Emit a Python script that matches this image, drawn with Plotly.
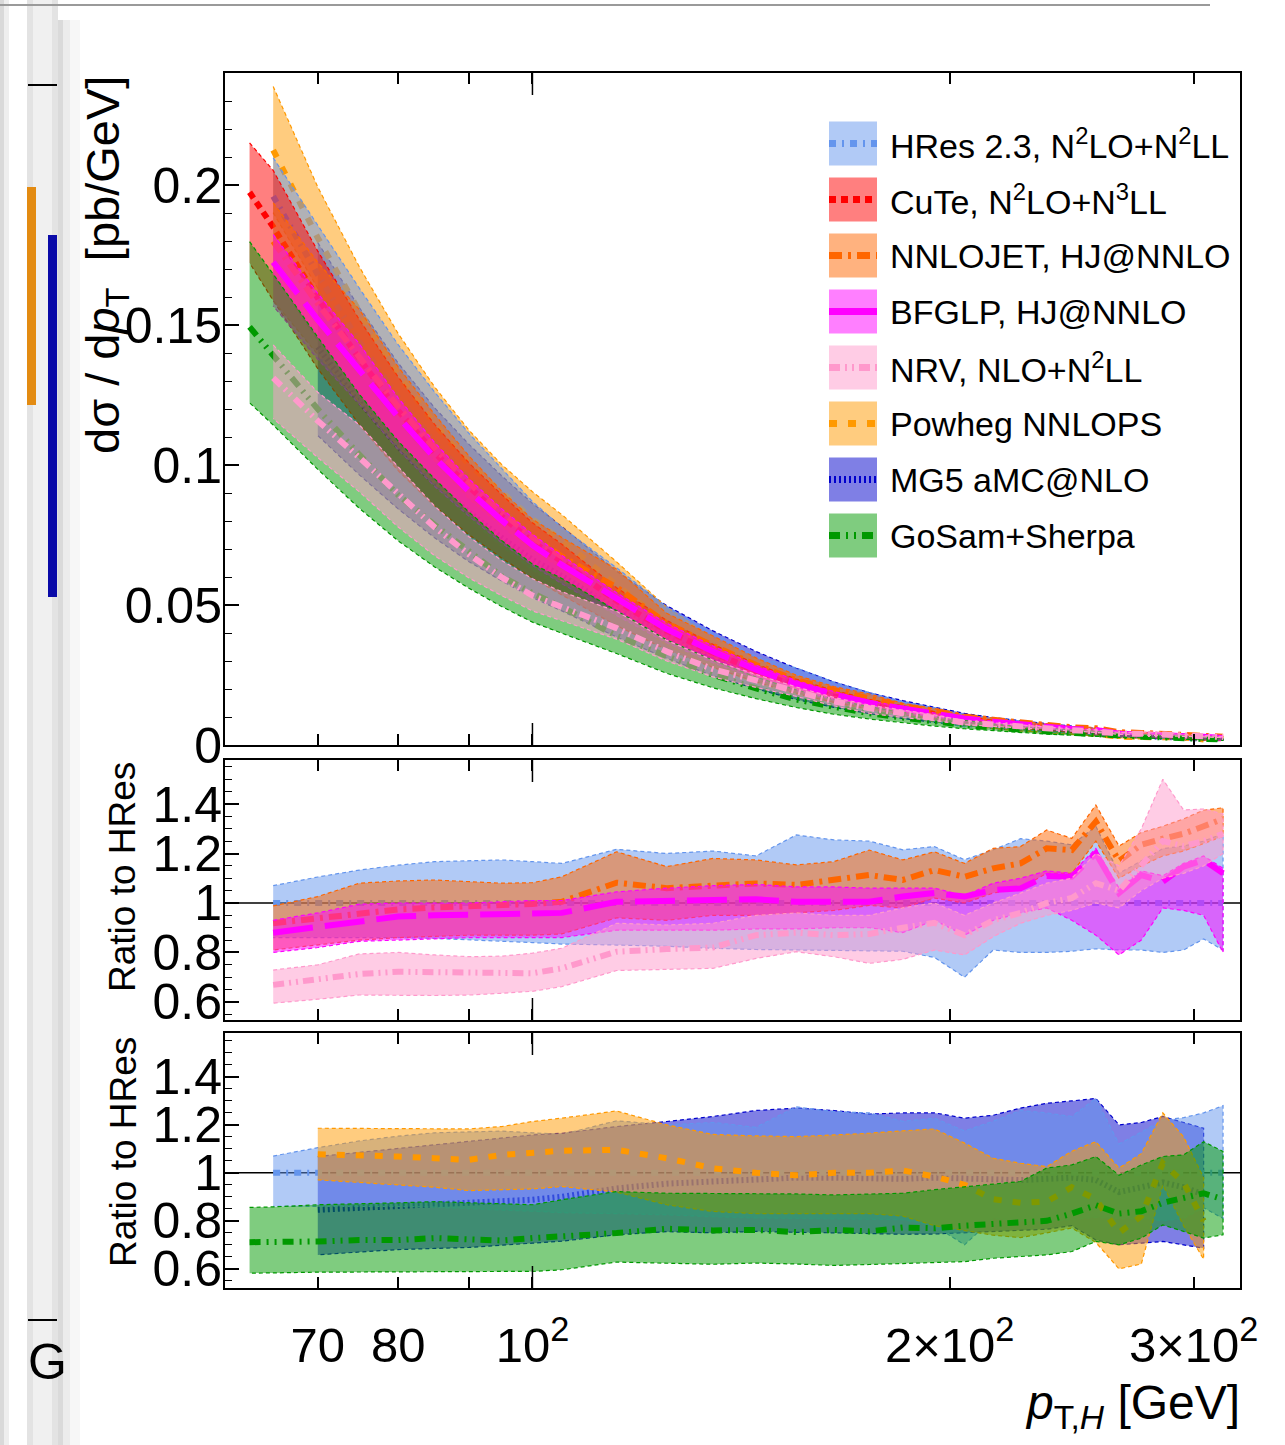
import math
import plotly.graph_objects as go

# ---------------- data ----------------
N = None
pt = [62.5, 65, 70, 75, 80, 85, 90, 95, 100, 105, 115, 125, 135, 145, 155, 165, 175,
      185, 195, 205, 215, 225, 235, 245, 255, 265, 275, 285, 295, 305, 315]

# HRes central prediction dsigma/dpT [pb/GeV] (reference for all ratios)
hres_xsec = [0.210, 0.196, 0.168, 0.144, 0.124, 0.108, 0.095, 0.084, 0.0745, 0.067, 0.052,
             0.041, 0.033, 0.0265, 0.0216, 0.0179, 0.0150, 0.0127, 0.0108, 0.0092, 0.0079,
             0.0068, 0.0059, 0.0052, 0.0045, 0.0039, 0.0035, 0.0031, 0.0028, 0.0025, 0.0022]

# ratios to HRes central: centre / lower / upper
hres_c = [N, 1.0, 1.0, 1.0, 1.0, 1.0, 1.0, 1.0, 1.0, 1.0, 1.0, 1.0, 1.0, 1.0, 1.0, 1.0, 1.0,
          1.0, 1.0, 1.0, 1.0, 1.0, 1.0, 1.0, 1.0, 1.0, 1.0, 1.0, 1.0, 1.0, 1.0]
hres_hi = [N, 1.07, 1.105, 1.133, 1.153, 1.167, 1.171, 1.174, 1.167, 1.16, 1.217, 1.20, 1.21,
           1.19, 1.275, 1.255, 1.25, 1.215, 1.228, 1.175, 1.215, 1.26, 1.25, 1.235, 1.31, 1.12,
           1.17, 1.22, 1.23, 1.25, 1.28]
hres_lo = [N, 0.86, 0.86, 0.86, 0.86, 0.857, 0.852, 0.845, 0.84, 0.834, 0.83, 0.825, 0.817,
           0.812, 0.81, 0.808, 0.806, 0.805, 0.78, 0.70, 0.81, 0.80, 0.80, 0.805, 0.815, 0.81,
           0.81, 0.80, 0.81, 0.855, 0.81]

cute_c = [0.94, 0.944, 0.95, 0.958, 0.963, 0.967, 0.97, 0.972, 0.975, 0.978, 0.99, 0.995, 1.0,
          1.0, 1.0, 1.0, 1.0, 1.01, 1.01, 1.01, 1.02, 1.02, 1.03, 1.03, 1.04, 1.04, 1.05, 1.05,
          1.06, 1.06, 1.07]
cute_hi = [1.024, 1.047, 1.05, 1.055, 1.06, 1.06, 1.06, 1.065, 1.065, 1.07, 1.08, 1.085, 1.09,
           1.09, 1.09, 1.09, 1.09, 1.10, 1.10, 1.10, 1.11, 1.11, 1.12, 1.12, 1.13, 1.13, 1.14,
           1.14, 1.15, 1.15, 1.16]
cute_lo = [0.82, 0.81, 0.80, 0.795, 0.79, 0.79, 0.79, 0.795, 0.80, 0.80, 0.82, 0.83, 0.84,
           0.85, 0.85, 0.85, 0.85, 0.86, 0.86, 0.86, 0.87, 0.87, 0.88, 0.88, 0.89, 0.89, 0.90,
           0.90, 0.91, 0.91, 0.92]

nnlo_c = [N, 0.918, 0.938, 0.962, 0.974, 0.982, 0.985, 0.99, 0.996, 1.005, 1.082, 1.06, 1.073,
          1.079, 1.073, 1.093, 1.113, 1.093, 1.133, 1.106, 1.14, 1.16, 1.221, 1.214, 1.329,
          1.17, 1.235, 1.26, 1.28, 1.31, 1.34]
nnlo_hi = [N, 0.988, 1.026, 1.08, 1.089, 1.093, 1.086, 1.08, 1.082, 1.106, 1.207, 1.147, 1.18,
           1.174, 1.154, 1.167, 1.214, 1.174, 1.207, 1.16, 1.221, 1.228, 1.295, 1.261, 1.396,
           1.23, 1.285, 1.31, 1.34, 1.375, 1.385]
nnlo_lo = [N, 0.81, 0.83, 0.85, 0.86, 0.865, 0.87, 0.87, 0.87, 0.875, 0.94, 0.93, 0.95, 0.95,
           0.96, 0.97, 0.99, 0.98, 1.02, 1.0, 1.04, 1.06, 1.12, 1.12, 1.25, 1.10, 1.15, 1.19,
           1.21, 1.24, 1.27]

bfglp_c = [N, 0.88, 0.904, 0.93, 0.945, 0.95, 0.954, 0.956, 0.958, 0.96, 1.005, 1.01, 1.012,
           1.015, 1.005, 1.005, 1.005, 1.026, 1.04, 1.026, 1.053, 1.059, 1.109, 1.106, 1.20,
           1.04, 1.113, 1.086, 1.147, 1.174, 1.12]
bfglp_hi = [N, 0.93, 0.96, 0.995, 1.0, 1.0, 1.0, 1.005, 1.01, 1.01, 1.045, 1.06, 1.07, 1.075,
            1.065, 1.065, 1.06, 1.06, 1.06, 1.03, 1.08, 1.1, 1.13, 1.12, 1.22, 1.06, 1.13,
            1.11, 1.16, 1.19, 1.14]
bfglp_lo = [N, 0.80, 0.82, 0.845, 0.85, 0.855, 0.86, 0.86, 0.86, 0.86, 0.89, 0.89, 0.89,
            0.895, 0.895, 0.9, 0.9, 0.88, 0.93, 0.87, 0.93, 0.96, 0.98, 0.93, 0.87, 0.79,
            0.85, 0.98, 0.97, 0.95, 0.80]

nrv_c = [N, 0.669, 0.689, 0.713, 0.722, 0.72, 0.716, 0.713, 0.716, 0.736, 0.803, 0.814, 0.82,
         0.87, 0.88, 0.87, 0.875, 0.90, 0.92, 0.87, 0.93, 0.96, 1.0, 1.02, 1.08, 1.05, 1.15,
         1.25, 1.23, 1.25, 1.28]
nrv_hi = [N, 0.729, 0.75, 0.794, 0.80, 0.79, 0.783, 0.785, 0.797, 0.817, 0.918, 0.911, 0.918,
          0.95, 0.96, 0.95, 0.95, 0.98, 1.0, 0.95, 1.0, 1.04, 1.08, 1.10, 1.20, 1.15, 1.30,
          1.50, 1.376, 1.38, 1.36]
nrv_lo = [N, 0.595, 0.611, 0.628, 0.628, 0.626, 0.628, 0.635, 0.643, 0.662, 0.727, 0.732,
          0.736, 0.776, 0.803, 0.783, 0.756, 0.772, 0.81, 0.79, 0.864, 0.918, 0.95, 0.97, 1.0,
          0.98, 1.05, 1.10, 1.12, 1.15, 1.20]

pw_c = [N, 1.084, 1.078, 1.075, 1.068, 1.061, 1.054, 1.075, 1.082, 1.092, 1.096, 1.061, 1.019,
        1.0, 0.99, 1.0, 1.0, 1.01, 0.985, 0.95, 0.89, 0.875, 0.88, 0.94, 0.89, 0.75, 0.82,
        1.04, 0.96, 0.80, N]
pw_hi = [N, 1.20, 1.186, 1.186, 1.185, 1.184, 1.183, 1.193, 1.214, 1.228, 1.258, 1.20, 1.16,
         1.154, 1.151, 1.158, 1.165, 1.175, 1.183, 1.124, 1.061, 1.04, 1.026, 1.09, 1.13, 1.02,
         1.08, 1.25, 1.15, 0.98, N]
pw_lo = [N, 0.97, 0.971, 0.96, 0.95, 0.94, 0.926, 0.93, 0.933, 0.943, 0.92, 0.867, 0.839,
         0.83, 0.83, 0.83, 0.83, 0.82, 0.78, 0.76, 0.74, 0.73, 0.75, 0.77, 0.71, 0.60, 0.62,
         0.95, 0.78, 0.64, N]

mg5_c = [N, N, 0.846, 0.853, 0.86, 0.867, 0.874, 0.881, 0.888, 0.90, 0.935, 0.955, 0.965,
         0.975, 0.98, 0.98, 0.975, 0.975, 0.98, 0.975, 0.97, 0.97, 0.975, 0.98, 0.97, 0.92,
         0.94, 0.96, 0.94, 0.91, N]
mg5_hi = [N, N, 1.068, 1.085, 1.10, 1.115, 1.13, 1.145, 1.158, 1.165, 1.193, 1.214, 1.235,
          1.26, 1.27, 1.26, 1.245, 1.25, 1.25, 1.228, 1.24, 1.27, 1.29, 1.30, 1.31, 1.20, 1.21,
          1.235, 1.21, 1.186, N]
mg5_lo = [N, N, 0.658, 0.67, 0.68, 0.685, 0.689, 0.698, 0.707, 0.715, 0.742, 0.755, 0.75,
          0.756, 0.752, 0.75, 0.748, 0.744, 0.745, 0.75, 0.755, 0.76, 0.765, 0.78, 0.72, 0.70,
          0.707, 0.714, 0.70, 0.686, N]

gs_c = [0.711, 0.711, 0.714, 0.72, 0.72, 0.728, 0.725, 0.718, 0.728, 0.735, 0.749, 0.767, 0.76,
        0.762, 0.753, 0.762, 0.756, 0.772, 0.769, 0.78, 0.785, 0.79, 0.80, 0.83, 0.865, 0.83,
        0.84, 0.875, 0.895, 0.915, 0.89]
gs_hi = [0.856, 0.858, 0.867, 0.87, 0.875, 0.88, 0.875, 0.87, 0.867, 0.888, 0.922, 0.915,
         0.915, 0.915, 0.912, 0.908, 0.91, 0.915, 0.93, 0.943, 0.953, 0.964, 1.02, 1.033,
         1.068, 0.99, 1.033, 1.068, 1.075, 1.13, 1.089]
gs_lo = [0.582, 0.583, 0.586, 0.587, 0.588, 0.589, 0.589, 0.589, 0.589, 0.596, 0.628, 0.624,
         0.619, 0.624, 0.62, 0.614, 0.618, 0.622, 0.625, 0.63, 0.644, 0.651, 0.658, 0.672,
         0.714, 0.70, 0.728, 0.783, 0.756, 0.728, 0.742]

names = ["HRes", "CuTe", "NNLOJET", "BFGLP", "NRV", "Powheg", "MG5", "GoSam"]
labels = ["HRes 2.3, N<sup>2</sup>LO+N<sup>2</sup>LL", "CuTe, N<sup>2</sup>LO+N<sup>3</sup>LL",
          "NNLOJET, HJ@NNLO", "BFGLP, HJ@NNLO", "NRV, NLO+N<sup>2</sup>LL", "Powheg NNLOPS",
          "MG5 aMC@NLO", "GoSam+Sherpa"]
values = {
    "HRes": (hres_c, hres_lo, hres_hi), "CuTe": (cute_c, cute_lo, cute_hi),
    "NNLOJET": (nnlo_c, nnlo_lo, nnlo_hi), "BFGLP": (bfglp_c, bfglp_lo, bfglp_hi),
    "NRV": (nrv_c, nrv_lo, nrv_hi), "Powheg": (pw_c, pw_lo, pw_hi),
    "MG5": (mg5_c, mg5_lo, mg5_hi), "GoSam": (gs_c, gs_lo, gs_hi),
}
# drawing order in each panel
top_panel = ["MG5", "Powheg", "HRes", "CuTe", "NNLOJET", "BFGLP", "GoSam", "NRV"]
mid_panel = ["HRes", "NNLOJET", "BFGLP", "NRV"]
bot_panel = ["MG5", "HRes", "Powheg", "GoSam"]
ratio_from = {"Powheg": 70}

# ---------------- styles ----------------
style = {
    "HRes": dict(rgb=(100, 149, 237), dash="7px,6px,2px,6px"),
    "CuTe": dict(rgb=(255, 0, 0), dash="7px,5px"),
    "NNLOJET": dict(rgb=(255, 102, 0), dash="13px,6px,3px,6px"),
    "BFGLP": dict(rgb=(255, 0, 255), dash="40px,12px"),
    "NRV": dict(rgb=(255, 153, 204), dash="11px,5px,2px,5px,2px,5px"),
    "Powheg": dict(rgb=(255, 153, 0), dash="8px,11px"),
    "MG5": dict(rgb=(0, 0, 204), dash="2px,3px"),
    "GoSam": dict(rgb=(0, 153, 0), dash="11px,6px,2px,6px,2px,6px"),
}
legend_dash = {"BFGLP": "solid"}

W, H = 1285, 1445
L, R, T, B = 225, 45, 73, 157
PW, PH = W - L - R, H - T - B
FONT = "Liberation Sans, Arial, Helvetica, sans-serif"


def px(x):
    return (x - L) / PW


def py(y):
    return (T + PH - y) / PH


def rgba(rgb, a):
    return "rgba(%d,%d,%d,%s)" % (rgb[0], rgb[1], rgb[2], a)


fig = go.Figure()


def add_series(name, xa, ya, absolute, pmin=None):
    c, lo, hi = values[name]
    idx = [i for i in range(len(pt)) if c[i] is not None and (pmin is None or pt[i] >= pmin)]
    xs = [pt[i] for i in idx]
    f = [hres_xsec[i] if absolute else 1.0 for i in idx]
    yc = [c[i] * k for i, k in zip(idx, f)]
    yl = [lo[i] * k for i, k in zip(idx, f)]
    yh = [hi[i] * k for i, k in zip(idx, f)]
    st = style[name]
    col = rgba(st["rgb"], 1)
    fig.add_trace(go.Scatter(x=xs + xs[::-1], y=yh + yl[::-1], mode="lines", fill="toself",
                             fillcolor=rgba(st["rgb"], 0.5),
                             line=dict(color=col, width=1.2, dash="4px,3px"),
                             xaxis=xa, yaxis=ya, hoverinfo="skip", showlegend=False))
    fig.add_trace(go.Scatter(x=xs, y=yc, mode="lines",
                             line=dict(color=col, width=6, dash=st["dash"]),
                             xaxis=xa, yaxis=ya, hoverinfo="skip", showlegend=False))


for n in top_panel:
    add_series(n, "x", "y", True)
for n in mid_panel:
    add_series(n, "x2", "y2", False, ratio_from.get(n))
for n in bot_panel:
    add_series(n, "x3", "y3", False, ratio_from.get(n))

xrange_ = [math.log10(60), math.log10(324)]
xticks = [70, 80, 90, 100, 200, 300]
xtext = ["70", "80", "", "10<sup>2</sup>", "2×10<sup>2</sup>", "3×10<sup>2</sup>"]


def xaxis(labels_on):
    return dict(type="log", range=xrange_, showgrid=False, zeroline=False, showline=True,
                linecolor="black", linewidth=2, mirror="ticks", ticks="inside", ticklen=11,
                tickwidth=1.5, tickcolor="black", tickmode="array", tickvals=xticks,
                ticktext=xtext, showticklabels=labels_on, ticklabelstandoff=13,
                tickfont=dict(size=49, color="black", family=FONT))


def yaxis(domain, anchor, rng, **kw):
    d = dict(domain=domain, anchor=anchor, range=rng, showgrid=False, zeroline=False,
             showline=True, linecolor="black", linewidth=2, mirror=True, ticks="inside",
             ticklen=14, tickwidth=1.5, tickcolor="black", ticklabelstandoff=-9,
             tickfont=dict(size=50, color="black", family=FONT))
    d.update(kw)
    return d


dom_top = [py(745), 1.0]
dom_mid = [py(1020), py(760)]
dom_bot = [0.0, py(1033)]
ratio_ticks = [0.6, 0.8, 1.0, 1.2, 1.4]
ratio_text = ["0.6", "0.8", "1", "1.2", "1.4"]
minor_ratio = dict(ticks="inside", ticklen=7, tickwidth=1.2, tickcolor="black",
                   tickmode="linear", tick0=0, dtick=0.05)

fig.update_layout(
    width=W, height=H, margin=dict(l=L, r=R, t=T, b=B, autoexpand=False),
    paper_bgcolor="white", plot_bgcolor="white", showlegend=False,
    font=dict(family=FONT, color="black"),
    xaxis=dict(xaxis(False), anchor="y"),
    xaxis2=dict(xaxis(False), anchor="y2"),
    xaxis3=dict(xaxis(True), anchor="y3"),
    yaxis=yaxis(dom_top, "x", [0, 0.24], tickmode="linear", tick0=0, dtick=0.05,
                minor=dict(ticks="inside", ticklen=7, tickwidth=1.2, tickcolor="black",
                           tickmode="linear", tick0=0, dtick=0.01)),
    yaxis2=yaxis(dom_mid, "x2", [0.527, 1.578], tickmode="array", tickvals=ratio_ticks,
                 ticktext=ratio_text, minor=minor_ratio),
    yaxis3=yaxis(dom_bot, "x3", [0.52, 1.583], tickmode="array", tickvals=ratio_ticks,
                 ticktext=ratio_text, minor=minor_ratio),
)

shapes = []
# unity lines in the ratio panels
for ax in ("2", "3"):
    shapes.append(dict(type="line", xref="x%s domain" % ax, yref="y" + ax, x0=0, x1=1,
                       y0=1, y1=1, line=dict(color="black", width=1.5), layer="below"))

# longer decade tick at 10^2 on every panel edge
x_dec = (2 - xrange_[0]) / (xrange_[1] - xrange_[0])
for top_px, bot_px in ((73, 745), (760, 1020), (1033, 1288)):
    for y0, y1 in ((top_px, top_px + 22), (bot_px, bot_px - 22)):
        shapes.append(dict(type="line", xref="paper", yref="paper", x0=x_dec, x1=x_dec,
                           y0=py(y0), y1=py(y1), line=dict(color="black", width=1.5),
                           layer="above"))

annotations = []
# legend (drawn by hand)
for i, (n, lab) in enumerate(zip(names, labels)):
    yc = 143.5 + 56.0 * i
    st = style[n]
    shapes.append(dict(type="rect", xref="paper", yref="paper", x0=px(829), x1=px(877),
                       y0=py(yc + 22), y1=py(yc - 22), fillcolor=rgba(st["rgb"], 0.5),
                       line=dict(width=0), layer="above"))
    shapes.append(dict(type="line", xref="paper", yref="paper", x0=px(829), x1=px(877),
                       y0=py(yc), y1=py(yc),
                       line=dict(color=rgba(st["rgb"], 1), width=7,
                                 dash=legend_dash.get(n, st["dash"])), layer="above"))
    annotations.append(dict(xref="paper", yref="paper", x=px(888), y=py(yc), xanchor="left",
                            yanchor="middle", text=lab, showarrow=False,
                            font=dict(size=34, color="black", family=FONT)))

# axis titles
annotations.append(dict(xref="paper", yref="paper", x=px(106), y=py(265), textangle=-90,
                        text="dσ / d<i>p</i><sub>T</sub>  [pb/GeV]", showarrow=False,
                        xanchor="center", yanchor="middle",
                        font=dict(size=47, color="black", family=FONT)))
for yc in (877, 1152):
    annotations.append(dict(xref="paper", yref="paper", x=px(123), y=py(yc), textangle=-90,
                            text="Ratio to HRes", showarrow=False, xanchor="center",
                            yanchor="middle", font=dict(size=37, color="black", family=FONT)))
annotations.append(dict(xref="paper", yref="paper", x=px(1242), y=py(1374), xanchor="right",
                        yanchor="top", text="<i>p</i><sub>T,<i>H</i></sub> [GeV]",
                        showarrow=False, font=dict(size=48, color="black", family=FONT)))


# background window-edge artefacts visible on the left of the screenshot
def prect(x0, x1, y0, y1, color):
    shapes.append(dict(type="rect", xref="paper", yref="paper", x0=px(x0), x1=px(x1),
                       y0=py(y1), y1=py(y0), fillcolor=color, line=dict(width=0),
                       layer="above"))


prect(0, 4, 0, H, "#d9d9d9")
prect(4, 9, 0, H, "#eeeeee")
prect(27, 58, 0, H, "#e3e3e3")
prect(33, 52, 0, H, "#f0f0f0")
prect(58, 63, 20, H, "#dadada")
prect(63, 70, 20, H, "#ececec")
prect(70, 80, 20, H, "#f7f7f7")
prect(27, 36, 187, 405, "#E38B12")
prect(48, 57, 235, 597, "#0A0AA8")
for yy in (85, 1320):
    shapes.append(dict(type="line", xref="paper", yref="paper", x0=px(28), x1=px(57),
                       y0=py(yy), y1=py(yy), line=dict(color="black", width=2), layer="above"))
shapes.append(dict(type="line", xref="paper", yref="paper", x0=px(0), x1=px(1210),
                   y0=py(5), y1=py(5), line=dict(color="#9a9a9a", width=2), layer="above"))
annotations.append(dict(xref="paper", yref="paper", x=px(26), y=py(1362), xanchor="left",
                        yanchor="middle", text="G", showarrow=False,
                        font=dict(size=50, color="black", family=FONT)))

fig.update_layout(shapes=shapes, annotations=annotations)
fig.write_html("out.html", config={"displayModeBar": False},
               post_script="document.body.style.margin='0';"
                           "document.body.style.overflow='hidden';")
